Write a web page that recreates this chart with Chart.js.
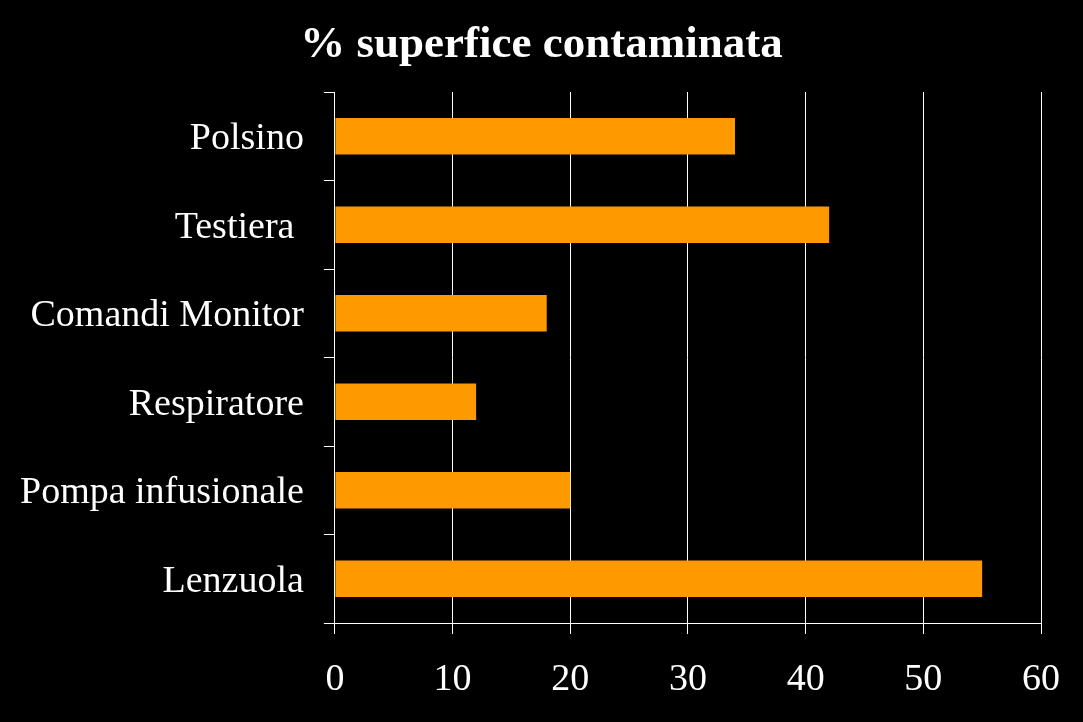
<!DOCTYPE html>
<html>
<head>
<meta charset="utf-8">
<script src="https://cdn.jsdelivr.net/npm/chart.js@4/dist/chart.umd.min.js"></script>
<style>
html,body{margin:0;padding:0;background:#000;}
#wrap{width:1083px;height:722px;}
</style>
</head>
<body>
<div id="wrap"><canvas id="c" width="1083" height="722"></canvas></div>
<script>
const categories = ["Polsino", "Testiera ", "Comandi Monitor", "Respiratore", "Pompa infusionale", "Lenzuola"];
const values = [34, 42, 18, 12, 20, 55];
const xTicks = [0, 10, 20, 30, 40, 50, 60];
const titleText = "% superfice contaminata";

const serif = "'Liberation Serif', 'Times New Roman', serif";

const bgPlugin = {
  id: 'bg',
  beforeDraw(chart) {
    const ctx = chart.ctx;
    ctx.save();
    ctx.fillStyle = '#000';
    ctx.fillRect(0, 0, chart.width, chart.height);
    ctx.restore();
  }
};

new Chart(document.getElementById('c'), {
  type: 'bar',
  data: {
    labels: categories,
    datasets: [{
      data: values,
      backgroundColor: '#FF9900',
      borderWidth: 0,
      barPercentage: 0.41,
      categoryPercentage: 1.0
    }]
  },
  plugins: [bgPlugin],
  options: {
    indexAxis: 'y',
    responsive: false,
    animation: false,
    devicePixelRatio: 1,
    layout: { padding: { left: 0, right: 0, top: 0, bottom: 0 } },
    plugins: {
      legend: { display: false },
      tooltip: { enabled: false },
      title: {
        display: true,
        text: titleText,
        color: '#fff',
        font: { family: serif, size: 45, weight: 'bold', lineHeight: 1.2 },
        padding: { top: 18, bottom: 20 }
      }
    },
    scales: {
      x: {
        min: 0,
        max: 60,
        afterBuildTicks(axis) { axis.ticks = xTicks.map(v => ({ value: v })); },
        afterFit(axis) { axis.paddingRight = 42; axis.height = 99; },
        grid: { color: '#fff', lineWidth: 1, tickLength: 11, drawTicks: true },
        border: { display: true, color: '#fff', width: 1 },
        ticks: {
          color: '#fff',
          padding: 23,
          font: { family: serif, size: 38, lineHeight: 1.2 },
          maxRotation: 0
        }
      },
      y: {
        offset: true,
        grid: { offset: true, drawOnChartArea: false, drawTicks: true, tickLength: 11, color: '#fff', lineWidth: 1 },
        border: { display: true, color: '#fff', width: 1 },
        ticks: {
          color: '#fff',
          padding: 20,
          labelOffset: 3,
          font: { family: serif, size: 38 }
        }
      }
    }
  }
});
</script>
</body>
</html>
